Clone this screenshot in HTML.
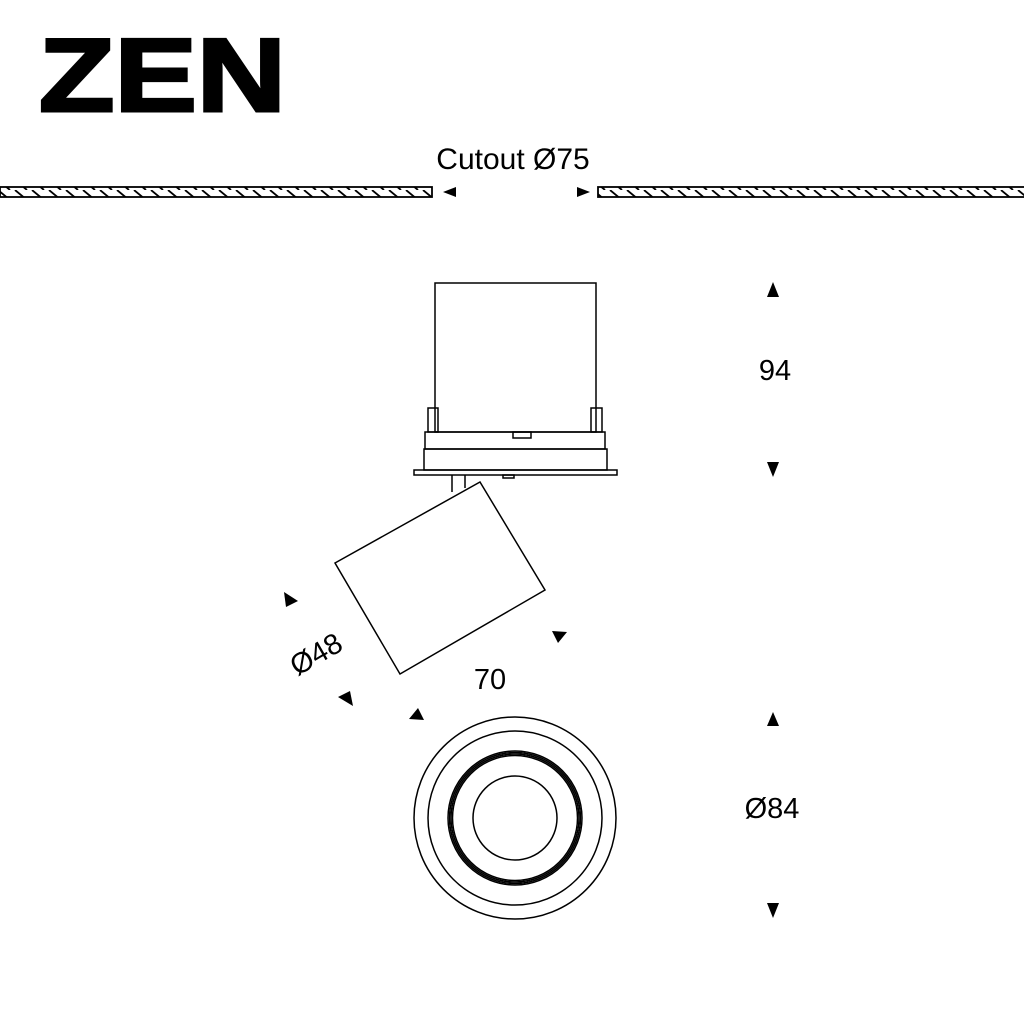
<!DOCTYPE html>
<html><head><style>html,body{margin:0;padding:0;background:#fff}svg{display:block}</style></head>
<body>
<svg width="1024" height="1024" viewBox="0 0 1024 1024" xmlns="http://www.w3.org/2000/svg">
<defs>
<pattern id="h" width="17" height="10" patternUnits="userSpaceOnUse">
<line x1="-2" y1="0" x2="10" y2="10" stroke="#000" stroke-width="1.8"/>
<line x1="15" y1="0" x2="27" y2="10" stroke="#000" stroke-width="1.8"/>
</pattern>
</defs>
<text x="39" y="111" font-family="Liberation Sans, sans-serif" font-weight="bold" font-size="104" textLength="247" lengthAdjust="spacingAndGlyphs" stroke="#000" stroke-width="3">ZEN</text>
<text x="513" y="169" text-anchor="middle" font-family="Liberation Sans, sans-serif" font-size="30">Cutout Ø75</text>
<g stroke="#000" stroke-width="1.8">
<rect x="0" y="187" width="432" height="10" fill="url(#h)"/>
<rect x="598" y="187" width="430" height="10" fill="url(#h)"/>
</g>
<g fill="#000">
<polygon points="443,192 456,187 456,197"/>
<polygon points="590,192 577,187 577,197"/>
<polygon points="773,282 767,297 779,297"/>
<polygon points="773,477 767,462 779,462"/>
<polygon points="773,712 767,726 779,726"/>
<polygon points="773,918 767,903 779,903"/>
<polygon points="284,592 298,601 286,607"/>
<polygon points="353,706 338,697 350,691"/>
<polygon points="567,632 552,631 558,643"/>
<polygon points="409,719 424,720 418,708"/>
</g>
<g fill="none" stroke="#000" stroke-width="1.5">
<rect x="435" y="283" width="161" height="149"/>
<rect x="428" y="408" width="10" height="24"/>
<rect x="591" y="408" width="11" height="24"/>
<rect x="425" y="432" width="180" height="17"/>
<rect x="424" y="449" width="183" height="21"/>
<rect x="414" y="470" width="203" height="5"/>
<rect x="513" y="432" width="18" height="6"/>
<rect x="503" y="475" width="11" height="3"/>
<line x1="452" y1="475" x2="452" y2="492"/>
<line x1="465" y1="475" x2="465" y2="488"/>
<polygon points="335,563 480,482 545,590 400,674" fill="#fff"/>
<circle cx="515" cy="818" r="101"/>
<circle cx="515" cy="818" r="87"/>
<circle cx="515" cy="818" r="67"/>
<circle cx="515" cy="818" r="65.5"/>
<circle cx="515" cy="818" r="64"/>
<circle cx="515" cy="818" r="62.5"/>
<circle cx="515" cy="818" r="42"/>
</g>
<g font-family="Liberation Sans, sans-serif" font-size="29">
<text x="775" y="380" text-anchor="middle">94</text>
<text x="772" y="818" text-anchor="middle">Ø84</text>
<text x="490" y="689" text-anchor="middle">70</text>
<text x="316" y="664" text-anchor="middle" transform="rotate(-30 316 654)">Ø48</text>
</g>
</svg>
</body></html>
